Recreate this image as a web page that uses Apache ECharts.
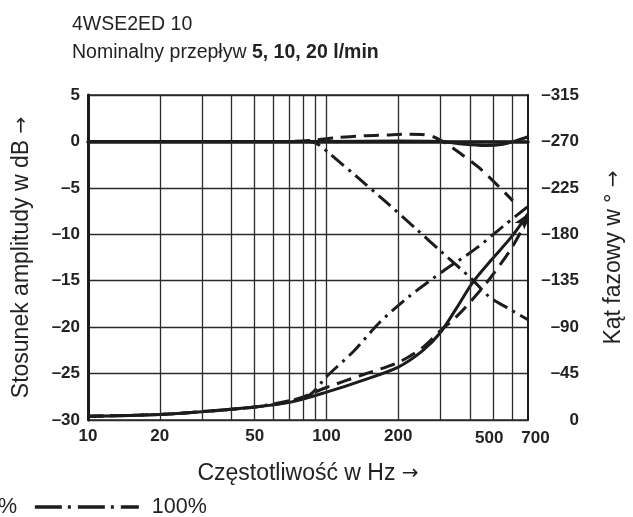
<!DOCTYPE html>
<html>
<head>
<meta charset="utf-8">
<script src="https://cdn.jsdelivr.net/npm/echarts@6/dist/echarts.min.js"></script>
<style>html,body{margin:0;padding:0;background:#fff}#c{width:633px;height:517px}</style>
</head>
<body>
<div id="c"></div>
<script>
// ---- data ----
const seriesNames = ['5%', '25%', '100%'];
const xTickLabels = [10, 20, 50, 100, 200, 500, 700];
const xGridValues = [20, 30, 40, 50, 60, 70, 80, 90, 100, 200, 300, 400, 500, 600];

// amplitude ratio (dB)
const ampSolidF  = [10, 50, 100, 200, 300, 350, 400, 470, 550, 620, 700];
const ampSolidDb = [0, 0, 0, 0.05, 0, -0.2, -0.35, -0.45, -0.3, 0.05, 0.5];

const ampDashF  = [10, 70, 90, 110, 143, 180, 216, 250, 280, 307, 330, 360, 435, 525, 605];
const ampDashDb = [0, 0, 0.15, 0.4, 0.6, 0.7, 0.77, 0.75, 0.5, 0.0, -0.5, -1.2, -2.8, -4.8, -6.4];

const ampDotF  = [10, 85, 92, 104, 134, 179, 237, 307, 410, 480, 580, 700];
const ampDotDb = [0, 0, -0.3, -1.4, -3.8, -6.6, -9.4, -12.0, -14.9, -16.7, -18.0, -19.2];

// phase angle (deg)
const phSolidF   = [10, 20, 30, 50, 70, 100, 143, 200, 254, 300, 350, 410, 490, 600, 700];
const phSolidDeg = [-3.6, -5.4, -8.1, -12.6, -17.1, -27, -38.7, -51.3, -67.5, -84.6, -108, -133.2, -154.8, -178.2, -199.8];

const phDashF   = [10, 20, 30, 50, 70, 100, 143, 200, 250, 300, 350, 410, 490, 600, 700];
const phDashDeg = [-3.6, -5.4, -8.1, -12.6, -18, -31.5, -44.1, -55.8, -69.3, -86.4, -99.9, -117, -138.6, -167.4, -195.3];

const phDotF   = [10, 20, 30, 50, 70, 85, 100, 130, 167, 222, 307, 420, 547, 700];
const phDotDeg = [-3.6, -5.4, -8.1, -12.6, -18.9, -24.3, -42, -66.6, -94.5, -119.7, -144, -165.6, -187.2, -207];

// ---- build ----
const zip = (a, b) => a.map((v, i) => [v, b[i]]);
const dash = (s) => String(s).replace('-', '\u2013');
const INK = '#1c1c1c';
const GRID = '#2a2a2a';
const TXT = '#222';
const FONT = '"Liberation Sans", Arial, Helvetica, sans-serif';
const ARROWFONT = '"DejaVu Sans", sans-serif';
const DASHED = [15, 8];
const DASHDOT = [16, 6, 3, 6];

function curve(name, data, type, yIdx) {
  return {
    name: name, type: 'line', xAxisIndex: 0, yAxisIndex: yIdx,
    data: data, smooth: 0.3, symbol: 'none', showSymbol: true,
    z: 3, silent: true,
    itemStyle: { color: INK },
    lineStyle: { color: INK, width: 3, type: type }
  };
}

const phSolidData = zip(phSolidF, phSolidDeg).map((p, i, arr) =>
  i === arr.length - 1
    ? { value: p, symbol: 'arrow', symbolSize: [9, 15], symbolRotate: -34, itemStyle: { color: INK } }
    : p);

const nameStyle = {
  fontFamily: FONT, fontSize: 23, color: TXT,
  rich: { a: { fontFamily: ARROWFONT, fontSize: 20, color: TXT } }
};

const option = {
  animation: false,
  backgroundColor: '#fff',
  textStyle: { fontFamily: FONT },
  title: {
    left: 72, top: 11, padding: 0,
    text: '4WSE2ED 10\nNominalny przepływ {b|5, 10, 20 l/min}',
    textStyle: {
      fontFamily: FONT, fontSize: 19.5, fontWeight: 'normal', color: TXT, lineHeight: 28,
      rich: { b: { fontFamily: FONT, fontSize: 19.5, fontWeight: 'bold', color: TXT, lineHeight: 28 } }
    }
  },
  legend: {
    left: -314, top: 491, itemGap: 16, itemWidth: 104, itemHeight: 20,
    itemStyle: { opacity: 0 },
    data: [
      { name: seriesNames[0] },
      { name: seriesNames[1], lineStyle: { type: [20, 8] } },
      { name: seriesNames[2], lineStyle: { type: [27, 6, 3, 7], width: 3.5 } }
    ],
    textStyle: { fontFamily: FONT, fontSize: 21.5, color: TXT, padding: [0, 0, 0, 8] },
    selectedMode: false
  },
  grid: {
    left: 88, right: 100, top: 95, bottom: 97,
    show: true, borderColor: GRID, borderWidth: 1.5, containLabel: false
  },
  xAxis: {
    type: 'log', logBase: 10, min: 10, max: 700,
    name: 'Częstotliwość w Hz {a|\u2192}', nameLocation: 'middle', nameGap: 42,
    nameTextStyle: nameStyle,
    axisLine: { show: true, lineStyle: { color: INK, width: 3.5 } },
    axisTick: { show: false },
    splitLine: { show: false },
    minorSplitLine: { show: false },
    axisLabel: {
      customValues: xTickLabels,
      fontFamily: FONT, fontSize: 17, fontWeight: 'bold', color: TXT, margin: 8,
      formatter: (v) => {
        const s = String(Math.round(v));
        if (s === '700') return '{r|' + s + '}';
        if (s === '500') return '{m|' + s + '}';
        return s;
      },
      rich: {
        r: { fontFamily: FONT, fontSize: 17, fontWeight: 'bold', color: TXT, padding: [2, 0, 0, 15] },
        m: { fontFamily: FONT, fontSize: 17, fontWeight: 'bold', color: TXT, padding: [2, 8, 0, 0] }
      }
    }
  },
  yAxis: [
    {
      type: 'value', min: -30, max: 5, interval: 5, position: 'left',
      name: 'Stosunek amplitudy w dB {a|\u2192}', nameLocation: 'middle', nameGap: 55,
      nameTextStyle: nameStyle,
      axisLine: { show: true, lineStyle: { color: INK, width: 3 } },
      axisTick: { show: false },
      splitLine: { show: true, lineStyle: { color: GRID, width: 1.3 } },
      axisLabel: { fontFamily: FONT, fontSize: 17, fontWeight: 'bold', color: TXT, margin: 8, formatter: dash }
    },
    {
      type: 'value', min: -315, max: 0, interval: 45, inverse: true, position: 'right',
      name: 'Kąt fazowy w ° {a|\u2192}', nameLocation: 'middle', nameGap: 74,
      nameTextStyle: nameStyle,
      axisLine: { show: true, lineStyle: { color: INK, width: 2 } },
      axisTick: { show: false },
      splitLine: { show: false },
      axisLabel: { fontFamily: FONT, fontSize: 17, fontWeight: 'bold', color: TXT, margin: 51, align: 'right', formatter: dash }
    }
  ],
  series: [
    {
      name: 'grid', type: 'line', xAxisIndex: 0, yAxisIndex: 0, data: [[10, 0]],
      symbol: 'none', lineStyle: { opacity: 0 }, z: 1, silent: true,
      markLine: {
        silent: true, symbol: 'none', animation: false,
        label: { show: false },
        lineStyle: { color: GRID, width: 1.3, type: 'solid' },
        data: xGridValues.map(v => ({ xAxis: v }))
      }
    },
    curve(seriesNames[0], zip(ampSolidF, ampSolidDb), 'solid', 0),
    curve(seriesNames[1], zip(ampDashF, ampDashDb), DASHED, 0),
    curve(seriesNames[2], zip(ampDotF, ampDotDb), DASHDOT, 0),
    curve(seriesNames[0], phSolidData, 'solid', 1),
    curve(seriesNames[1], zip(phDashF, phDashDeg), DASHED, 1),
    curve(seriesNames[2], zip(phDotF, phDotDeg), DASHDOT, 1)
  ]
};

const chart = echarts.init(document.getElementById('c'), null, { renderer: 'canvas' });
chart.setOption(option);
</script>
</body>
</html>
